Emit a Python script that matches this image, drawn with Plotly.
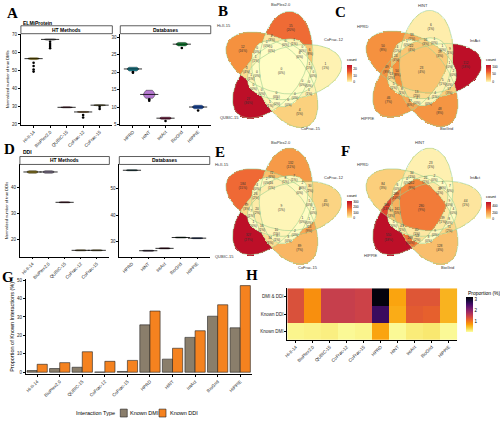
import numpy as np
import plotly.graph_objects as go

W, H = 500, 421


def fx(p):
    return p / W


def fy(p):
    return 1 - p / H


# ---------------- data ----------------
HT_CATS = ["Hi-II-14", "BioPlex2.0", "QUBIC-15", "CoFrac-12", "CoFrac-15"]
DB_CATS = ["HPRD", "HINT", "IntAct", "BioGrid", "HIPPIE"]

A_HT_VALS = [[56.0, 56.3, 56.5, 56.6, 56.8, 57.0], [66.9, 67.1, 67.3, 67.4, 67.6],
             [29.0, 29.2, 29.3, 29.4, 29.6], [26.4, 26.6, 26.7, 26.8, 27.0],
             [30.2, 30.4, 30.5, 30.6, 30.8]]
A_HT_OUT = [[54.2, 52.4, 50.5, 49.3], [66.0, 64.7, 63.6, 62.4], [], [25.0, 23.6], [29.6, 28.4]]
A_HT_COLORS = ["#c9a800", "#d9d9d9", "#8b1e3f", "#d98b2b", "#a79b3c"]

A_DB_VALS = [[20.3, 20.6, 20.9, 21.1, 21.4], [12.5, 13.2, 13.6, 14.0, 14.8],
             [6.5, 6.7, 6.9, 7.1], [27.5, 27.8, 28.0, 28.2, 28.5], [9.5, 9.8, 10.0, 10.2, 10.5]]
A_DB_OUT = [[19.8, 20.0], [11.8, 12.2], [6.0], [26.9], [9.0]]
A_DB_COLORS = ["#1f8fa0", "#b579d0", "#a3295b", "#1b9440", "#2159c4"]

D_HT_VALS = [[45.6, 45.9, 46.1, 46.3, 46.6], [45.6, 45.9, 46.1, 46.3, 46.6],
             [34.2, 34.3, 34.4, 34.5, 34.6], [15.7, 15.8, 15.9, 16.0, 16.1],
             [15.7, 15.8, 15.9, 16.0, 16.1]]
D_HT_COLORS = ["#b8a032", "#a999b8", "#8b1e3f", "#b39a3a", "#b39a3a"]
D_DB_VALS = [[56.7, 56.8, 56.9, 57.0, 57.1], [26.3, 26.4, 26.5, 26.6, 26.7],
             [27.2, 27.3, 27.4, 27.5, 27.6], [31.3, 31.4, 31.5, 31.6, 31.7],
             [31.05, 31.15, 31.25, 31.35, 31.45]]
D_DB_COLORS = ["#1f6f7a", "#6b4a7a", "#7a2040", "#1b6e35", "#1d3f8a"]

G_CATS = HT_CATS + DB_CATS
G_DMI = [0.9, 2.0, 2.7, 0.1, 0.4, 25.7, 7.1, 18.9, 30.4, 24.1]
G_DDI = [4.3, 5.2, 11.1, 5.9, 6.4, 33.2, 13.0, 22.5, 36.6, 47.0]
G_SERIES = ["Known DMI", "Known DDI"]
G_COLORS = ["#8a7e6b", "#f5821f"]

H_ROWS = ["DMI & DDI", "Known DDI", "Known DMI"]
H_VALUES = [[1.3, 0.8, 1.5, 1.5, 1.45, 3.15, 0.65, 1.25, 1.25, 0.55],
            [1.3, 0.8, 1.5, 1.5, 1.45, 2.6, 0.6, 1.2, 1.15, 0.55],
            [0.08, 0.1, 0.12, 0.05, 0.08, 0.65, 0.05, 0.15, 0.18, 0.05]]

# Venn sets in order: top, right, lower-right, lower-left, left.
# Region counts are listed by bitmask 1..31 (bit i = membership in set i).
HT_SETS = ["BioPlex2.0", "CoFrac-12", "CoFrac-15", "QUBIC-15", "Hi-II-15"]
DB_SETS = ["HINT", "IntAct", "BioGrid", "HIPPIE", "HPRD"]
VENN_B_COUNTS = [15, 1, 6, 4, 0, 1, 0, 27, 1, 0, 0, 1, 0, 0, 0, 12, 2, 0, 1, 0, 0, 0, 0, 3, 0, 1,
                 0, 1, 0, 0, 0]
VENN_C_COUNTS = [6, 112, 9, 48, 3, 17, 4, 46, 1, 5, 1, 37, 3, 8, 13, 50, 33, 2, 1, 4, 1, 3, 5, 49,
                 16, 13, 19, 24, 22, 50, 23]
VENN_E_COUNTS = [132, 45, 30, 89, 3, 113, 2, 327, 7, 1, 2, 34, 9, 16, 10, 184, 72, 2, 5, 4, 2, 1,
                 1, 39, 8, 7, 4, 26, 16, 20, 9]
VENN_F_COUNTS = [23, 44, 7, 128, 3, 71, 9, 550, 2, 5, 3, 288, 53, 43, 40, 84, 34, 4, 9, 6, 4, 8,
                 39, 386, 22, 97, 37, 289, 262, 161, 280]

# ---------------- venn geometry ----------------


def ellipse_params(d, L, S, rel, ang0):
    out = []
    for i in range(5):
        psi = np.deg2rad(ang0 - 72 * i)
        out.append((d * np.cos(psi), d * np.sin(psi), L, S, psi + np.deg2rad(rel)))
    return out


def region_mask(GX, GY, params):
    m = np.zeros(GX.shape, int)
    for i, (cx, cy, L, S, th) in enumerate(params):
        dx, dy = GX - cx, GY - cy
        u = dx * np.cos(th) + dy * np.sin(th)
        v = -dx * np.sin(th) + dy * np.cos(th)
        m |= (((u / L) ** 2 + (v / S) ** 2) <= 1).astype(int) << i
    return m


g = np.linspace(-1.7, 1.7, 90)
GX, GY = np.meshgrid(g, g)
best = None
for s_l in (0.68, 0.645, 0.6, 0.55):
    for d in np.arange(0.15, 0.47, 0.025):
        for rel in range(0, 180, 5):
            mm = region_mask(GX, GY, ellipse_params(d, 1.0, s_l, rel, 100))
            vals, cnt = np.unique(mm[mm > 0], return_counts=True)
            if len(vals) == 31:
                score = cnt.min() / cnt.sum() + 0.02 * d
                if best is None or score > best[0]:
                    best = (score, d, s_l, rel)
if best is None:
    VD, VS, VREL = 0.13 / 0.46, 0.24 / 0.46, 150
else:
    _, VD, VS, VREL = best

NG = 130
gf = np.linspace(-1.55, 1.55, NG)
FX, FY = np.meshgrid(gf, gf)
m0 = region_mask(FX, FY, ellipse_params(VD, 1.0, VS, VREL, 100))
sel = m0 == 1
phi = np.rad2deg(np.arctan2(FY[sel].mean(), FX[sel].mean()))
ANG0 = 100 + (78 - phi)
PARAMS = ellipse_params(VD, 1.0, VS, VREL, ANG0)
MASK = region_mask(FX, FY, PARAMS)
union = MASK > 0
EXT = max(np.abs(FX[union]).max(), np.abs(FY[union]).max()) * 1.02
CENTROIDS = {}
for k in range(1, 32):
    s = MASK == k
    if s.any():
        CENTROIDS[k] = (FX[s].mean(), FY[s].mean())

VENN_SCALE = [[0, "#fffdc4"], [0.15, "#fbd07d"], [0.45, "#f5903e"], [0.62, "#ec5530"],
              [1, "#bd0f28"]]

fig = go.Figure()
AX = dict(showline=True, linecolor="black", linewidth=0.8, ticks="outside", ticklen=2,
          tickcolor="black", tickwidth=0.6, showgrid=False, zeroline=False,
          tickfont=dict(size=4.5, color="#222"))

# ---------------- violins (A, D) ----------------


def add_violins(cats, vals, outs, colors, xa, ya, crossw):
    for c, v, col in zip(cats, vals, colors):
        fig.add_trace(go.Violin(x=[c] * len(v), y=v, xaxis=xa, yaxis=ya, fillcolor=col,
                                line=dict(color="black", width=0.4), width=0.7, points=False,
                                spanmode="hard", showlegend=False, hoverinfo="skip",
                                box_visible=False, meanline_visible=False, opacity=1))
    fig.add_trace(go.Scatter(x=cats, y=[float(np.median(v)) for v in vals], xaxis=xa, yaxis=ya,
                             mode="markers", showlegend=False, hoverinfo="skip",
                             marker=dict(symbol="line-ew", size=crossw,
                                         line=dict(color="black", width=0.8))))
    if outs:
        ox, oy = [], []
        for c, o in zip(cats, outs):
            ox += [c] * len(o)
            oy += o
        fig.add_trace(go.Scatter(x=ox, y=oy, xaxis=xa, yaxis=ya, mode="markers",
                                 showlegend=False, hoverinfo="skip",
                                 marker=dict(color="black", size=2.6)))


add_violins(HT_CATS, A_HT_VALS, A_HT_OUT, A_HT_COLORS, "x", "y", 13)
add_violins(DB_CATS, A_DB_VALS, A_DB_OUT, A_DB_COLORS, "x2", "y2", 13)
add_violins(HT_CATS, D_HT_VALS, None, D_HT_COLORS, "x3", "y3", 13)
add_violins(DB_CATS, D_DB_VALS, None, D_DB_COLORS, "x4", "y4", 13)

# ---------------- G bars ----------------
for name, vals, col in zip(G_SERIES, [G_DMI, G_DDI], G_COLORS):
    fig.add_trace(go.Bar(x=G_CATS, y=vals, name=name, xaxis="x5", yaxis="y5", showlegend=False,
                         hoverinfo="skip",
                         marker=dict(color=col, line=dict(color="#222", width=0.6))))

# ---------------- H heatmap ----------------
fig.add_trace(go.Heatmap(z=H_VALUES, x=G_CATS, y=H_ROWS, xaxis="x6", yaxis="y6",
                         colorscale="Inferno", reversescale=True, zmin=0, zmax=3.2,
                         hoverinfo="skip",
                         colorbar=dict(x=fx(466), xanchor="left", y=fy(316), yanchor="middle",
                                       len=35 / H, thickness=7, xpad=0, ypad=0, outlinewidth=0,
                                       tickvals=[1, 2, 3], ticks="", tickfont=dict(size=4.5))))

# ---------------- Venns ----------------
VENNS = [
    (HT_SETS, VENN_B_COUNTS, "x7", "y7", (280, 70), 346, 67),
    (DB_SETS, VENN_C_COUNTS, "x8", "y8", (421, 69), 486, 67),
    (HT_SETS, VENN_E_COUNTS, "x9", "y9", (280, 208), 346, 204),
    (DB_SETS, VENN_F_COUNTS, "x10", "y10", (421, 208), 486, 205),
]
tt = np.linspace(0, 2 * np.pi, 120)
for sets, counts, xa, ya, cen, cbx, cby in VENNS:
    total = sum(counts)
    z = np.full(MASK.shape, np.nan)
    for k in range(1, 32):
        z[MASK == k] = counts[k - 1]
    zl = [[None if np.isnan(v) else float(v) for v in row] for row in z]
    fig.add_trace(go.Heatmap(x=gf, y=gf, z=zl, xaxis=xa, yaxis=ya, colorscale=VENN_SCALE,
                             zmin=0, zmax=max(counts), hoverinfo="skip",
                             colorbar=dict(x=fx(cbx), xanchor="left", y=fy(cby),
                                           yanchor="middle", len=27 / H, thickness=5, xpad=0,
                                           ypad=0, outlinewidth=0, ticks="", nticks=5,
                                           tickfont=dict(size=3.3),
                                           title=dict(text="count", side="top",
                                                      font=dict(size=4)))))
    for (cx, cy, L, S, th) in PARAMS:
        ex = cx + L * np.cos(tt) * np.cos(th) - S * np.sin(tt) * np.sin(th)
        ey = cy + L * np.cos(tt) * np.sin(th) + S * np.sin(tt) * np.cos(th)
        fig.add_trace(go.Scatter(x=ex, y=ey, xaxis=xa, yaxis=ya, mode="lines",
                                 line=dict(color="#9ccf8f", width=0.6), showlegend=False,
                                 hoverinfo="skip"))
    ks = sorted(CENTROIDS)
    fig.add_trace(go.Scatter(
        x=[CENTROIDS[k][0] for k in ks], y=[CENTROIDS[k][1] for k in ks], xaxis=xa, yaxis=ya,
        mode="text", showlegend=False, hoverinfo="skip",
        text=[f"{counts[k - 1]}<br>({round(100 * counts[k - 1] / total)}%)" for k in ks],
        textfont=dict(size=3.2, color="#333")))

# ---------------- layout ----------------
lay = dict(width=W, height=H, margin=dict(l=0, r=0, t=0, b=0), paper_bgcolor="white",
           plot_bgcolor="white", font=dict(family="Liberation Sans", color="black"),
           violinmode="overlay", barmode="group", bargap=0.1, bargroupgap=0,
           showlegend=False)


def cat_x(dom, anchor):
    d = dict(AX)
    d.update(domain=[fx(dom[0]), fx(dom[1])], anchor=anchor, type="category", tickangle=-45)
    return d


def num_y(dom, anchor, rng, dtick, title=None):
    d = dict(AX)
    d.update(domain=[fy(dom[1]), fy(dom[0])], anchor=anchor, range=rng, dtick=dtick)
    if title:
        d["title"] = dict(text=title, font=dict(size=4), standoff=2)
    return d


lay["xaxis"] = cat_x((18, 110), "y")
lay["yaxis"] = num_y((32, 124), "x", [19.5, 70.5], 10, "Normalized number of true DMIs")
lay["xaxis2"] = cat_x((118, 209), "y2")
lay["yaxis2"] = num_y((32, 124), "x2", [4.9, 31], 5)
lay["xaxis3"] = cat_x((17, 107), "y3")
lay["yaxis3"] = num_y((164, 257), "x3", [13.5, 49], 10, "Normalized number of true DDIs")
lay["xaxis4"] = cat_x((117, 208), "y4")
lay["yaxis4"] = num_y((164, 257), "x4", [24.3, 59.1], 10)
lay["xaxis5"] = cat_x((23, 250), "y5")
lay["yaxis5"] = num_y((280, 376), "x5", [-1.2, 50.4], 10, "Proportion of Known Interactions (%)")
lay["yaxis5"]["title"]["font"] = dict(size=5.5)
lay["xaxis6"] = cat_x((286, 457), "y6")
lay["yaxis6"] = dict(AX, domain=[fy(341), fy(289)], anchor="x6", type="category",
                     autorange="reversed")
for (xa, ya, cen) in [("xaxis7", "yaxis7", (280, 70)), ("xaxis8", "yaxis8", (421, 69)),
                      ("xaxis9", "yaxis9", (280, 208)), ("xaxis10", "yaxis10", (421, 208))]:
    r = 61
    lay[xa] = dict(domain=[fx(cen[0] - r), fx(cen[0] + r)], range=[-EXT, EXT], visible=False,
                   anchor=ya.replace("axis", ""))
    lay[ya] = dict(domain=[fy(cen[1] + r), fy(cen[1] - r)], range=[-EXT, EXT], visible=False,
                   anchor=xa.replace("axis", ""))

fig.update_layout(**lay)

ann = []


def text(x, y, s, size, bold=False, family=None, xanchor="center", yanchor="middle", color=None):
    a = dict(x=fx(x), y=fy(y), xref="paper", yref="paper", showarrow=False,
             text=f"<b>{s}</b>" if bold else s, xanchor=xanchor, yanchor=yanchor,
             font=dict(size=size))
    if family:
        a["font"]["family"] = family
    if color:
        a["font"]["color"] = color
    ann.append(a)


for lbl, x, y in [("A", 10, 11), ("B", 221, 9), ("C", 340, 10), ("D", 7, 148),
                  ("E", 218, 151), ("F", 345, 150), ("G", 5, 278), ("H", 251, 276)]:
    text(x, y, lbl, 15, bold=True, family="Liberation Serif")
text(18, 21, "ELMiProtein", 5, bold=True, xanchor="left")
text(18, 151, "DDI", 5, bold=True, xanchor="left")
text(466, 294, "Proportion (%)", 5, xanchor="left")

shapes = []
for (x0, y0, x1, y1, s) in [(18, 24, 110, 32, "HT Methods"), (118, 24, 209, 32, "Databases"),
                            (17, 156, 107, 164, "HT Methods"), (117, 156, 208, 164, "Databases")]:
    shapes.append(dict(type="rect", xref="paper", yref="paper", x0=fx(x0), x1=fx(x1),
                       y0=fy(y1), y1=fy(y0), line=dict(color="#333", width=0.8),
                       fillcolor="white"))
    text((x0 + x1) / 2, (y0 + y1) / 2, s, 5, bold=True)

# legend of panel G (drawn by hand to match the compact ggplot legend)
text(115, 415, "Interaction Type", 5.5, xanchor="right")
for (sx, tx), name, col in zip([(118, 126), (157, 166)], G_SERIES, G_COLORS):
    shapes.append(dict(type="rect", xref="paper", yref="paper", x0=fx(sx), x1=fx(sx + 7),
                       y0=fy(419), y1=fy(411), line=dict(color="#222", width=0.6),
                       fillcolor=col))
    text(tx, 415, name, 5.5, xanchor="left")

SET_LABEL_POS = {
    "x7": [(280, 3), (333, 38), (310, 128), (228, 117), (222, 24)],
    "x8": [(423, 4), (475, 39), (446, 128), (367, 118), (362, 25)],
    "x9": [(280, 142), (333, 177), (307, 268), (223, 257), (220, 164)],
    "x10": [(420, 142), (475, 177), (447, 268), (370, 256), (362, 164)],
}
for sets, counts, xa, ya, cen, cbx, cby in VENNS:
    for name, (px, py) in zip(sets, SET_LABEL_POS[xa]):
        text(px, py, name, 4, color="#333")

fig.update_layout(annotations=ann, shapes=shapes)
fig.write_html("out.html", config={"displayModeBar": False},
               post_script="document.body.style.margin='0';document.body.style.padding='0';")
